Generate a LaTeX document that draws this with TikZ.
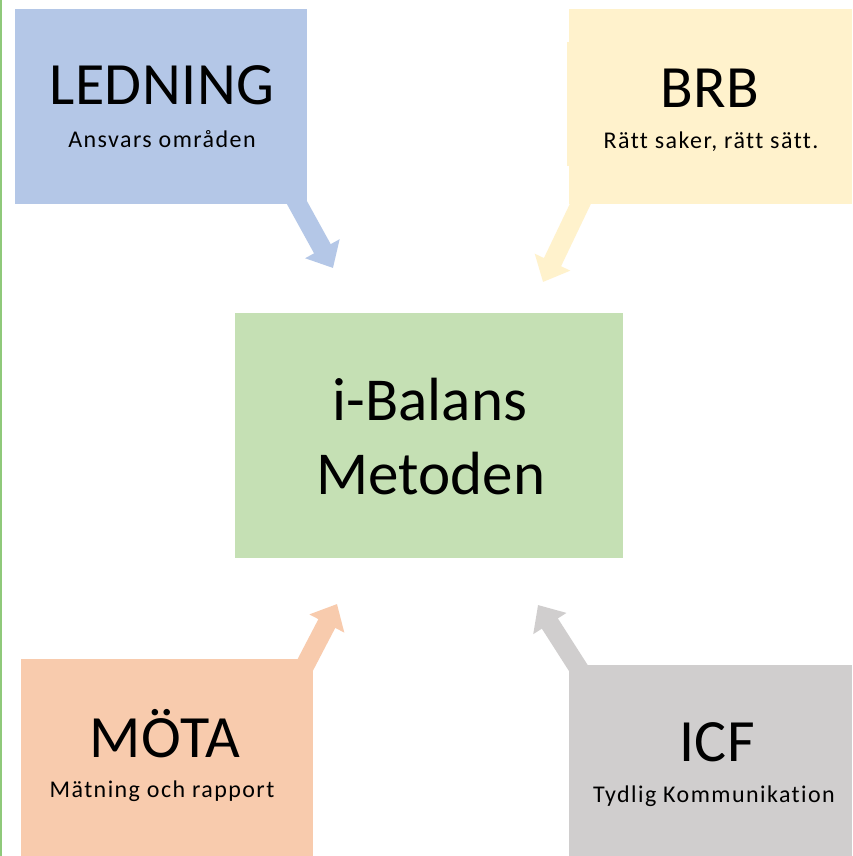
\documentclass[tikz,border=0pt]{standalone}
\usepackage{fontspec}
\setmainfont{Carlito}[Ligatures=NoCommon]
\usetikzlibrary{arrows.meta}
\definecolor{cblue}{HTML}{B4C7E7}
\definecolor{cyellow}{HTML}{FFF2CC}
\definecolor{cgreen}{HTML}{C5E0B4}
\definecolor{corange}{HTML}{F8CBAD}
\definecolor{cgray}{HTML}{D0CECE}
\definecolor{cline}{HTML}{8FC97A}
\tikzset{
  box/.style={draw=none, inner sep=0pt, outer sep=0pt, rectangle},
  title/.style={anchor=base, inner sep=0pt, font=\fontsize{60}{60}\selectfont\addfontfeature{LetterSpace=1}},
  subtitle/.style={anchor=base, inner sep=0pt, font=\fontsize{24}{24}\selectfont\addfontfeature{LetterSpace=6}},
  center text/.style={anchor=base, inner sep=0pt, font=\fontsize{61}{61}\selectfont},
  blockarrow/.style={line width=19pt, -{Triangle[width=38pt,length=22pt]}}
}
\begin{document}
\begin{tikzpicture}[x=1pt,y=-1pt]
\useasboundingbox (0,0) rectangle (852,856);
\fill[white] (0,0) rectangle (852,856);
\draw[cline, line width=1.5pt] (0.75,0) -- (0.75,856);

% arrow coordinates
\coordinate (ls) at (290,190);
\coordinate (lt) at (333,268);
\coordinate (bs) at (587,190);
\coordinate (bt) at (543,282);
\coordinate (ms) at (300,675);
\coordinate (mt) at (337,604);
\coordinate (is) at (586,680);
\coordinate (it) at (538,605);

% arrows (behind boxes)
\draw[blockarrow, draw=cblue] (ls) -- (lt);
\draw[blockarrow, draw=cyellow] (bs) -- (bt);
\draw[blockarrow, draw=corange] (ms) -- (mt);
\draw[blockarrow, draw=cgray] (is) -- (it);

% boxes
\node[box, fill=cblue, minimum width=292pt, minimum height=195pt] (ledning) at (161,106.5) {};
\node[box, fill=cyellow, minimum width=283pt, minimum height=195pt] (brb) at (710.5,106.5) {};
\node[box, fill=cyellow, minimum width=14pt, minimum height=124pt] (brbnotch) at (574,104) {};
\node[box, fill=cgreen, minimum width=388pt, minimum height=245pt] (center) at (429,435.5) {};
\node[box, fill=corange, minimum width=292pt, minimum height=197pt] (mota) at (167,757.5) {};
\node[box, fill=cgray, minimum width=283pt, minimum height=191pt] (icf) at (710.5,760.5) {};

% texts
\node[title] (t1) at (162,105) {LEDNING};
\node[subtitle] (s1) at (162,147) {Ansvars områden};
\node[title] (t2) at (710,107) {BRB};
\node[subtitle] (s2) at (711,148) {Rätt saker, rätt sätt.};
\node[center text] (c1) at (430,420) {i-Balans};
\node[center text] (c2) at (431,494) {Metoden};
\node[title] (t3) at (165,757) {MÖTA};
\node[subtitle] (s3) at (162,797) {Mätning och rapport};
\node[title] (t4) at (717,761) {ICF};
\node[subtitle] (s4) at (714,802) {Tydlig Kommunikation};
\end{tikzpicture}
\end{document}
